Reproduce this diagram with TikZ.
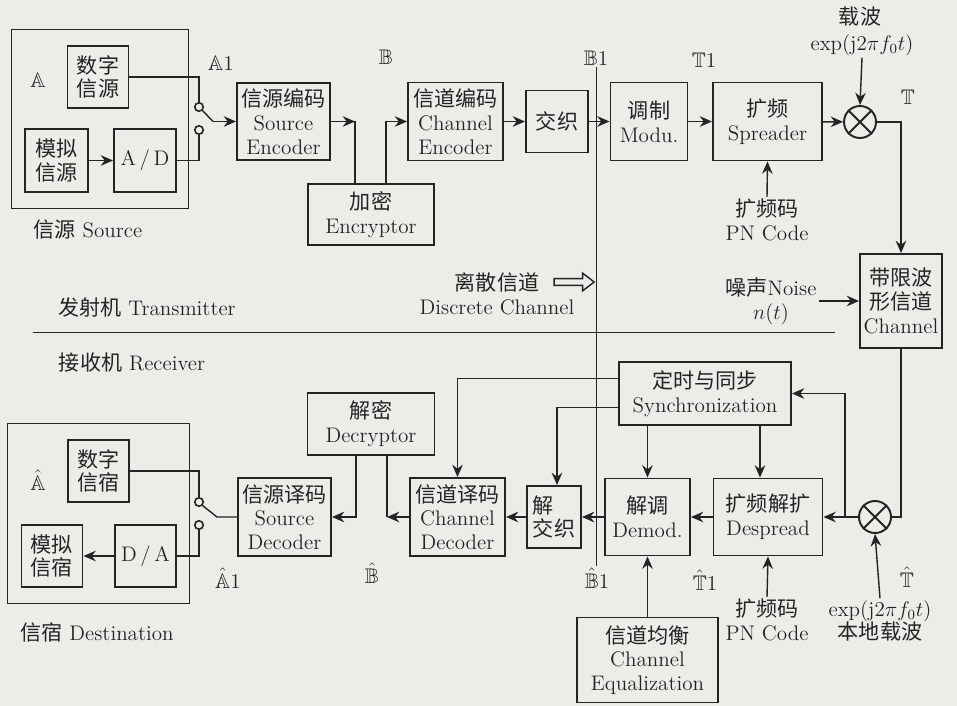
\documentclass[tikz,border=0pt]{standalone}
\usepackage{amsmath,amssymb}
\usepackage{fontspec}
\newfontfamily\zhfont{Noto Sans CJK SC}
\newcommand{\zh}[1]{{\zhfont #1}}
\usetikzlibrary{positioning,calc,arrows.meta,shapes.arrows}
\definecolor{ink}{RGB}{36,36,36}
\definecolor{paper}{RGB}{236,236,233}

\begin{document}
\begin{tikzpicture}[x=0.02cm,y=-0.02cm,ink,font=\fontsize{12}{13.5}\selectfont,
	blk/.style={draw,line width=1.1pt,inner sep=1pt,align=center},
	lbl/.style={inner sep=1pt,align=center},
	sw/.style={draw,circle,line width=0.9pt,minimum size=0.17cm,inner sep=0pt},
	mixer/.style={draw,circle,line width=1.1pt,minimum size=0.64cm,inner sep=0pt},
	ln/.style={line width=0.8pt},
	arr/.style={line width=0.8pt,-{Stealth[length=7pt,width=6pt]}},
	thinln/.style={line width=0.5pt}]
	\useasboundingbox (0,0) rectangle (957,706);
	\fill[paper] (0,0) rectangle (957,706);

	% transmitter
	\draw[thinln] (11,29) rectangle (188,208);
	\node[lbl] (la) at (38,80) {$\mathbb{A}$};
	\node[blk,minimum width=1.22cm,minimum height=1.24cm] (dsrc) at (98,77) {\zh{数字}\\\zh{信源}};
	\node[blk,minimum width=1.26cm,minimum height=1.26cm] (asrc) at (56.5,160.5) {\zh{模拟}\\\zh{信源}};
	\node[blk,minimum width=1.24cm,minimum height=1.26cm] (ad) at (145,160.5) {A\,/\,D};
	\node[lbl] (lsrc) at (88,230) {\zh{信源} Source};
	\node[sw] (sw1a) at (199,107) {};
	\node[sw] (sw1b) at (199,130) {};
	\node[lbl] (la1) at (221,63) {$\mathbb{A}1$};
	\node[blk,minimum width=1.86cm,minimum height=1.54cm] (senc) at (283.5,121.5) {\zh{信源编码}\\Source\\Encoder};
	\node[blk,minimum width=2.52cm,minimum height=1.22cm] (enc) at (371,214.5) {\zh{加密}\\Encryptor};
	\node[lbl] (lb) at (386,57) {$\mathbb{B}$};
	\node[blk,minimum width=1.90cm,minimum height=1.56cm] (cenc) at (455.5,121.5) {\zh{信道编码}\\Channel\\Encoder};
	\node[blk,minimum width=1.24cm,minimum height=1.24cm] (intl) at (557,121.5) {\zh{交织}};
	\node[lbl] (lb1) at (596,58) {$\mathbb{B}1$};
	\node[blk,minimum width=1.54cm,minimum height=1.56cm] (mod) at (649,121.5) {\zh{调制}\\Modu.};
	\node[lbl] (lt1) at (704,60) {$\mathbb{T}1$};
	\node[blk,minimum width=2.18cm,minimum height=1.56cm] (spr) at (767.5,121.5) {\zh{扩频}\\Spreader};
	\node[mixer] (mix1) at (860,122) {};
	\node[lbl] (carzh) at (860,17) {\zh{载波}};
	\node[lbl] (car) at (862,45) {$\exp(\mathrm{j}2\pi f_0t)$};
	\node[lbl] (lt) at (908,97) {$\mathbb{T}$};
	\node[lbl] (pn1) at (767,220) {\zh{扩频码}\\PN Code};
	\node[blk,minimum width=1.64cm,minimum height=1.88cm] (chan) at (901,301) {\zh{带限波}\\\zh{形信道}\\Channel};
	\node[lbl] (noise) at (771,301) {\zh{噪声}Noise\\$n(t)$};

	\coordinate (bl1) at (213,121.5);
	\coordinate (c1) at (355,121.5);
	\coordinate (c2) at (386,121.5);
	\draw[arr] (asrc) -- (ad);
	\draw[ln] (dsrc.east) -| (sw1a.north);
	\draw[ln] (ad.east) -| (sw1b.south);
	\draw[ln] (sw1a.-45) -- (bl1);
	\draw[arr] (bl1) -- (senc.west);
	\draw[arr] (senc.east) -- (c1);
	\draw[ln] (c1) -- (c1 |- enc.north);
	\draw[arr] (c2 |- enc.north) -- (c2) -- (cenc.west);
	\draw[arr] (cenc) -- (intl);
	\draw[arr] (intl) -- (mod);
	\draw[arr] (mod) -- (spr);
	\draw[arr] (spr) -- (mix1);
	\draw[line width=1.1pt] (mix1.45) -- (mix1.225) (mix1.135) -- (mix1.315);
	\draw[arr] (car.south) -- (mix1.north);
	\draw[arr] (pn1.north) -- (spr.south);
	\draw[arr] (mix1.east) -| (chan.north);
	\draw[arr] (noise.east) -- (chan.west);

	% split line and discrete channel
	\node[lbl] (ltx) at (147,307) {\zh{发射机} Transmitter};
	\node[lbl] (lrx) at (132,363) {\zh{接收机} Receiver};
	\draw[thinln] (33,332) -- (835,332);
	\node[lbl] (ldc) at (497,294) {\zh{离散信道}\\Discrete Channel};
	\node[single arrow,draw,line width=0.8pt,inner sep=1.5pt,minimum height=0.8cm,
		single arrow head extend=0.11cm,single arrow tip angle=75] (dca) at (572,282) {};

	% receiver
	\draw[thinln] (7,423) rectangle (189,603);
	\node[lbl] (lah) at (38,480) {$\hat{\mathbb{A}}$};
	\node[blk,minimum width=1.22cm,minimum height=1.24cm] (dsnk) at (98.5,471) {\zh{数字}\\\zh{信宿}};
	\node[blk,minimum width=1.22cm,minimum height=1.24cm] (asnk) at (52,556) {\zh{模拟}\\\zh{信宿}};
	\node[blk,minimum width=1.22cm,minimum height=1.24cm] (da) at (145.5,556) {D\,/\,A};
	\node[lbl] (ldst) at (97,632) {\zh{信宿} Destination};
	\node[sw] (sw2a) at (199,502) {};
	\node[sw] (sw2b) at (199,525) {};
	\node[lbl] (la1h) at (228,578) {$\hat{\mathbb{A}}1$};
	\node[blk,minimum width=1.86cm,minimum height=1.56cm] (sdec) at (284.5,517) {\zh{信源译码}\\Source\\Decoder};
	\node[blk,minimum width=2.54cm,minimum height=1.24cm] (decr) at (371,424) {\zh{解密}\\Decryptor};
	\node[lbl] (lbh) at (372,573) {$\hat{\mathbb{B}}$};
	\node[blk,minimum width=1.90cm,minimum height=1.56cm] (cdec) at (457.5,517) {\zh{信道译码}\\Channel\\Decoder};
	\node[blk,align=left,minimum width=1.08cm,minimum height=1.24cm] (dintl) at (554,517) {\zh{解}\\\zh{交织}};
	\node[lbl] (lb1h) at (597,578) {$\hat{\mathbb{B}}1$};
	\node[blk,minimum width=1.70cm,minimum height=1.54cm] (dem) at (647.5,517) {\zh{解调}\\Demod.};
	\node[lbl] (lt1h) at (705,580) {$\hat{\mathbb{T}}1$};
	\node[blk,minimum width=2.18cm,minimum height=1.54cm] (desp) at (768,517) {\zh{扩频解扩}\\Despread};
	\node[blk,minimum width=3.44cm,minimum height=1.26cm] (sync) at (705,393.5) {\zh{定时与同步}\\Synchronization};
	\node[blk,minimum width=2.82cm,minimum height=1.70cm] (equ) at (647.5,660) {\zh{信道均衡}\\Channel\\Equalization};
	\node[mixer] (mix2) at (875,517) {};
	\node[lbl] (lth) at (907,577) {$\hat{\mathbb{T}}$};
	\node[lbl] (pn2) at (767,620) {\zh{扩频码}\\PN Code};
	\node[lbl] (lo) at (880,621) {$\exp(\mathrm{j}2\pi f_0t)$\\\zh{本地载波}};

	\coordinate (c3) at (845,517);
	\coordinate (c4) at (387,517);
	\coordinate (c5) at (356,517);
	\coordinate (bl2) at (217,517);
	\draw[ln] (chan.south) |- (mix2.east);
	\draw[line width=1.1pt] (mix2.45) -- (mix2.225) (mix2.135) -- (mix2.315);
	\draw[arr] (lo.north) -- (mix2.south);
	\draw[arr] (mix2.west) -- (desp.east);
	\draw[arr] (c3) |- (sync.east);
	\draw[arr] (desp) -- (dem);
	\draw[arr] (dem.west) -- (dintl.east);
	\draw[arr] (dintl) -- (cdec);
	\draw[arr] (equ.north) -- (dem.south);
	\draw[arr] (pn2.north) -- (desp.south);
	\draw[arr] ($(sync.west)+(0,-15)$) -| (cdec.north);
	\draw[arr] ($(sync.west)+(0,14)$) -| ($(dintl.north)+(3,0)$);
	\draw[arr] (sync.south -| dem.north) -- (dem.north);
	\draw[arr] ($(sync.south -| desp.north)+(-8,0)$) -- ($(desp.north)+(-8,0)$);
	\draw[arr] (cdec.west) -- (c4);
	\draw[ln] (c4) -- (c4 |- decr.south);
	\draw[arr] (c5 |- decr.south) -- (c5) -- (sdec.east);
	\draw[ln] (sdec.west) -- (bl2) -- (sw2a.-45);
	\draw[ln] (sw2a.north) |- (dsnk.east);
	\draw[ln] (sw2b.south) |- (da.east);
	\draw[arr] (da) -- (asnk);

	% B1 cut line
	\draw[thinln] (lb1.south) -- (lb1.south |- lb1h.north);
\end{tikzpicture}
\end{document}
